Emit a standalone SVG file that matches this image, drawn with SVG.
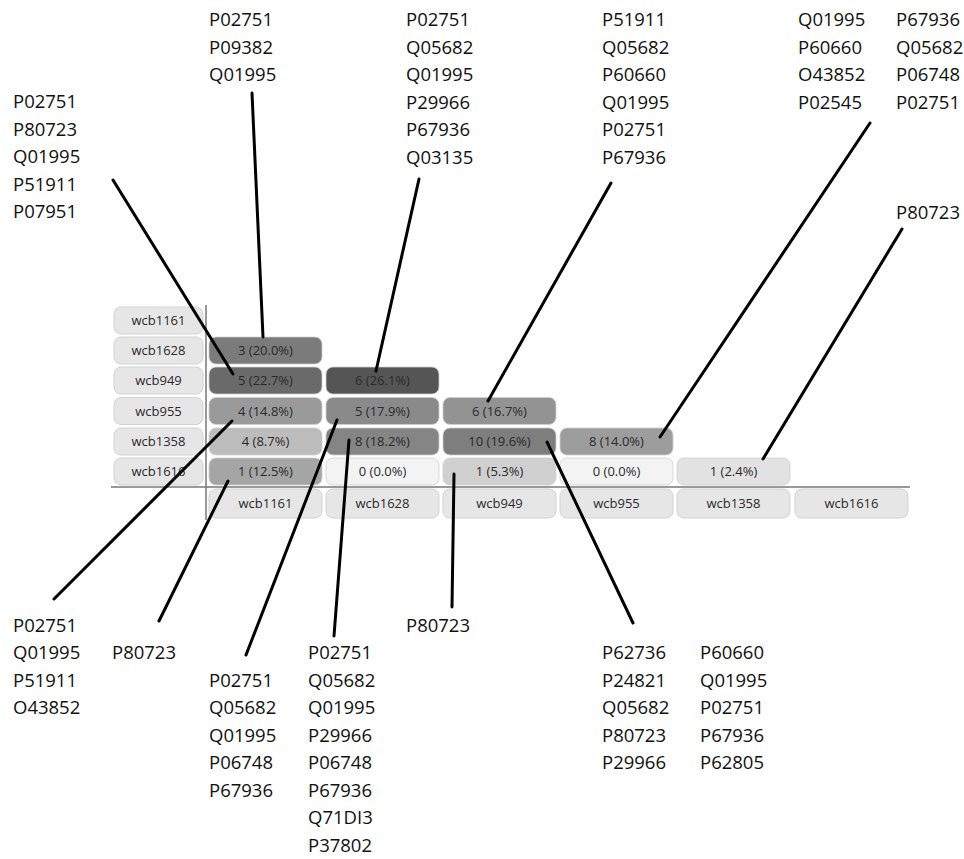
<svg xmlns="http://www.w3.org/2000/svg" width="964" height="859" viewBox="0 0 964 859">
<style>
.lab{font-family:"Open Sans","Noto Sans",sans-serif;font-size:18.5px;fill:#111}
.ct{font-family:"Open Sans","Noto Sans",sans-serif;font-size:13px;fill:#2a2a2a;text-anchor:middle}
.hd{fill:#e6e6e6;stroke:#d2d2d2;stroke-width:1}
.cell{stroke:#cfcfcf;stroke-width:0.8}
.ln{stroke:#000;stroke-width:3;stroke-linecap:round;fill:none}
.ax{stroke:#777;stroke-width:1.5}
</style>
<rect width="964" height="859" fill="#fff"/>
<g id="axes">
<line class="ax" x1="206" y1="305" x2="206" y2="520"/>
<line class="ax" x1="111" y1="487" x2="910" y2="487"/>
</g>
<g id="row-headers">
<g id="r-wcb1161"><rect class="hd" x="114" y="307" width="89" height="27" rx="7"/><text class="ct" x="158.5" y="325">wcb1161</text></g>
<g id="r-wcb1628"><rect class="hd" x="114" y="337" width="89" height="27" rx="7"/><text class="ct" x="158.5" y="355">wcb1628</text></g>
<g id="r-wcb949"><rect class="hd" x="114" y="367" width="89" height="27" rx="7"/><text class="ct" x="158.5" y="385">wcb949</text></g>
<g id="r-wcb955"><rect class="hd" x="114" y="397.5" width="89" height="27" rx="7"/><text class="ct" x="158.5" y="415.5">wcb955</text></g>
<g id="r-wcb1358"><rect class="hd" x="114" y="428" width="89" height="27" rx="7"/><text class="ct" x="158.5" y="446">wcb1358</text></g>
<g id="r-wcb1616"><rect class="hd" x="114" y="458" width="89" height="27" rx="7"/><text class="ct" x="158.5" y="476">wcb1616</text></g>
</g>
<g id="col-headers">
<g id="c-wcb1161"><rect class="hd" x="209" y="489" width="113" height="29" rx="7"/><text class="ct" x="265.5" y="508">wcb1161</text></g>
<g id="c-wcb1628"><rect class="hd" x="326" y="489" width="113" height="29" rx="7"/><text class="ct" x="382.5" y="508">wcb1628</text></g>
<g id="c-wcb949"><rect class="hd" x="443" y="489" width="113" height="29" rx="7"/><text class="ct" x="499.5" y="508">wcb949</text></g>
<g id="c-wcb955"><rect class="hd" x="560" y="489" width="113" height="29" rx="7"/><text class="ct" x="616.5" y="508">wcb955</text></g>
<g id="c-wcb1358"><rect class="hd" x="677" y="489" width="113" height="29" rx="7"/><text class="ct" x="733.5" y="508">wcb1358</text></g>
<g id="c-wcb1616"><rect class="hd" x="795" y="489" width="113" height="29" rx="7"/><text class="ct" x="851.5" y="508">wcb1616</text></g>
</g>
<g id="cells">
<g id="cell-1628-1161"><rect class="cell" x="209" y="337" width="113" height="27" rx="7" fill="#7b7b7b"/><text class="ct" x="265.5" y="355">3 (20.0%)</text></g>
<g id="cell-949-1161"><rect class="cell" x="209" y="367" width="113" height="27" rx="7" fill="#6a6a6a"/><text class="ct" x="265.5" y="385">5 (22.7%)</text></g>
<g id="cell-949-1628"><rect class="cell" x="326" y="367" width="113" height="27" rx="7" fill="#555555"/><text class="ct" x="382.5" y="385">6 (26.1%)</text></g>
<g id="cell-955-1161"><rect class="cell" x="209" y="397.5" width="113" height="27" rx="7" fill="#9a9a9a"/><text class="ct" x="265.5" y="415.5">4 (14.8%)</text></g>
<g id="cell-955-1628"><rect class="cell" x="326" y="397.5" width="113" height="27" rx="7" fill="#8a8a8a"/><text class="ct" x="382.5" y="415.5">5 (17.9%)</text></g>
<g id="cell-955-949"><rect class="cell" x="443" y="397.5" width="113" height="27" rx="7" fill="#939393"/><text class="ct" x="499.5" y="415.5">6 (16.7%)</text></g>
<g id="cell-1358-1161"><rect class="cell" x="209" y="428" width="113" height="27" rx="7" fill="#bcbcbc"/><text class="ct" x="265.5" y="446">4 (8.7%)</text></g>
<g id="cell-1358-1628"><rect class="cell" x="326" y="428" width="113" height="27" rx="7" fill="#858585"/><text class="ct" x="382.5" y="446">8 (18.2%)</text></g>
<g id="cell-1358-949"><rect class="cell" x="443" y="428" width="113" height="27" rx="7" fill="#7e7e7e"/><text class="ct" x="499.5" y="446">10 (19.6%)</text></g>
<g id="cell-1358-955"><rect class="cell" x="560" y="428" width="113" height="27" rx="7" fill="#9d9d9d"/><text class="ct" x="616.5" y="446">8 (14.0%)</text></g>
<g id="cell-1616-1161"><rect class="cell" x="209" y="458" width="113" height="27" rx="7" fill="#a5a5a5"/><text class="ct" x="265.5" y="476">1 (12.5%)</text></g>
<g id="cell-1616-1628"><rect class="cell" x="326" y="458" width="113" height="27" rx="7" fill="#f3f3f3" stroke="#ececec"/><text class="ct" x="382.5" y="476">0 (0.0%)</text></g>
<g id="cell-1616-949"><rect class="cell" x="443" y="458" width="113" height="27" rx="7" fill="#d0d0d0"/><text class="ct" x="499.5" y="476">1 (5.3%)</text></g>
<g id="cell-1616-955"><rect class="cell" x="560" y="458" width="113" height="27" rx="7" fill="#f3f3f3" stroke="#ececec"/><text class="ct" x="616.5" y="476">0 (0.0%)</text></g>
<g id="cell-1616-1358"><rect class="cell" x="677" y="458" width="113" height="27" rx="7" fill="#e2e2e2"/><text class="ct" x="733.5" y="476">1 (2.4%)</text></g>
</g>
<g id="connectors">
<line class="ln" x1="113" y1="180" x2="233" y2="374"/>
<line class="ln" x1="252" y1="93" x2="263" y2="337"/>
<line class="ln" x1="419" y1="179" x2="376" y2="371"/>
<line class="ln" x1="611" y1="183" x2="488" y2="401"/>
<line class="ln" x1="870" y1="123" x2="660" y2="437"/>
<line class="ln" x1="902" y1="229" x2="763" y2="459"/>
<line class="ln" x1="232" y1="421" x2="54" y2="599"/>
<line class="ln" x1="228" y1="481" x2="159" y2="621"/>
<line class="ln" x1="337" y1="420" x2="246" y2="655"/>
<line class="ln" x1="349" y1="440" x2="334" y2="636"/>
<line class="ln" x1="454" y1="474" x2="452" y2="607"/>
<line class="ln" x1="547" y1="442" x2="633" y2="623"/>
</g>
<g id="labels-top">
<text class="lab" x="13" y="108">P02751</text><text class="lab" x="13" y="135.5">P80723</text><text class="lab" x="13" y="163">Q01995</text><text class="lab" x="13" y="190.5">P51911</text><text class="lab" x="13" y="218">P07951</text>
<text class="lab" x="209" y="26">P02751</text><text class="lab" x="209" y="53.5">P09382</text><text class="lab" x="209" y="81">Q01995</text>
<text class="lab" x="406" y="26">P02751</text><text class="lab" x="406" y="53.5">Q05682</text><text class="lab" x="406" y="81">Q01995</text><text class="lab" x="406" y="108.5">P29966</text><text class="lab" x="406" y="136">P67936</text><text class="lab" x="406" y="163.5">Q03135</text>
<text class="lab" x="602" y="26">P51911</text><text class="lab" x="602" y="53.5">Q05682</text><text class="lab" x="602" y="81">P60660</text><text class="lab" x="602" y="108.5">Q01995</text><text class="lab" x="602" y="136">P02751</text><text class="lab" x="602" y="163.5">P67936</text>
<text class="lab" x="798" y="26">Q01995</text><text class="lab" x="798" y="53.5">P60660</text><text class="lab" x="798" y="81">O43852</text><text class="lab" x="798" y="108.5">P02545</text>
<text class="lab" x="896" y="26">P67936</text><text class="lab" x="896" y="53.5">Q05682</text><text class="lab" x="896" y="81">P06748</text><text class="lab" x="896" y="108.5">P02751</text>
<text class="lab" x="896" y="218.5">P80723</text>
</g>
<g id="labels-bottom">
<text class="lab" x="13" y="632">P02751</text><text class="lab" x="13" y="659">Q01995</text><text class="lab" x="13" y="686.5">P51911</text><text class="lab" x="13" y="714">O43852</text>
<text class="lab" x="112" y="659">P80723</text>
<text class="lab" x="209" y="686.5">P02751</text><text class="lab" x="209" y="714">Q05682</text><text class="lab" x="209" y="741.5">Q01995</text><text class="lab" x="209" y="769">P06748</text><text class="lab" x="209" y="796.5">P67936</text>
<text class="lab" x="308" y="659">P02751</text><text class="lab" x="308" y="686.5">Q05682</text><text class="lab" x="308" y="714">Q01995</text><text class="lab" x="308" y="741.5">P29966</text><text class="lab" x="308" y="769">P06748</text><text class="lab" x="308" y="796.5">P67936</text><text class="lab" x="308" y="824">Q71DI3</text><text class="lab" x="308" y="851.5">P37802</text>
<text class="lab" x="406" y="632">P80723</text>
<text class="lab" x="602" y="659">P62736</text><text class="lab" x="602" y="686.5">P24821</text><text class="lab" x="602" y="714">Q05682</text><text class="lab" x="602" y="741.5">P80723</text><text class="lab" x="602" y="769">P29966</text>
<text class="lab" x="700" y="659">P60660</text><text class="lab" x="700" y="686.5">Q01995</text><text class="lab" x="700" y="714">P02751</text><text class="lab" x="700" y="741.5">P67936</text><text class="lab" x="700" y="769">P62805</text>
</g>
</svg>
